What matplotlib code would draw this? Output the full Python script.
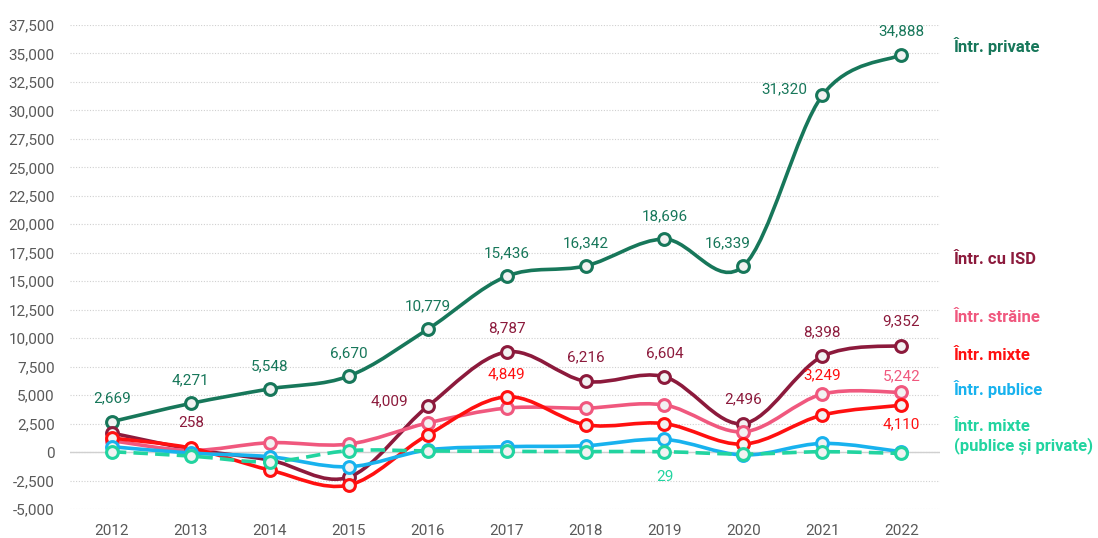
import matplotlib
matplotlib.use("Agg")
import matplotlib.pyplot as plt
from matplotlib.path import Path
from matplotlib.patches import PathPatch
from matplotlib.ticker import FuncFormatter, MultipleLocator

plt.rcParams['font.family'] = ['Roboto', 'DejaVu Sans']

years = ['2012', '2013', '2014', '2015', '2016', '2017', '2018', '2019', '2020', '2021', '2022']

private = [2669, 4271, 5548, 6670, 10779, 15436, 16342, 18696, 16339, 31320, 34888]
isd = [1670, 258, -700, -2200, 4009, 8787, 6216, 6604, 2496, 8398, 9352]
straine = [1000, 150, 820, 700, 2550, 3860, 3860, 4130, 1780, 5090, 5242]
mixte = [1230, 350, -1580, -2900, 1500, 4849, 2400, 2500, 700, 3249, 4110]
publice = [470, -90, -410, -1290, 180, 470, 560, 1110, -260, 760, 30]
mixte_ps = [30, -350, -850, 120, 100, 60, 40, 29, -180, 30, -120]

series_names = ['Într. private', 'Într. cu ISD', 'Într. străine', 'Într. mixte',
                'Într. publice', 'Într. mixte\n(publice și private)']
colors = ['#17775a', '#8c1a3c', '#f0587e', '#ff1010', '#18b2ee', '#22d4a0']

fig = plt.figure(figsize=(10.98, 5.38), dpi=100)
ax = fig.add_axes([70 / 1098, 1 - 509 / 538, 870 / 1098, 484 / 538])

xs = list(range(len(years)))


def smooth_path(x, y):
    n = len(x)
    verts = [(x[0], y[0])]
    codes = [Path.MOVETO]
    for i in range(n - 1):
        x0, y0 = (x[i - 1], y[i - 1]) if i > 0 else (x[i], y[i])
        x3, y3 = (x[i + 2], y[i + 2]) if i + 2 < n else (x[i + 1], y[i + 1])
        c1 = (x[i] + (x[i + 1] - x0) / 6, y[i] + (y[i + 1] - y0) / 6)
        c2 = (x[i + 1] - (x3 - x[i]) / 6, y[i + 1] - (y3 - y[i]) / 6)
        verts += [c1, c2, (x[i + 1], y[i + 1])]
        codes += [Path.CURVE4] * 3
    return Path(verts, codes)


all_series = [private, isd, straine, mixte, publice, mixte_ps]
for k, (vals, col) in enumerate(zip(all_series, colors)):
    ls = (0, (4, 2)) if k == 5 else '-'
    patch = PathPatch(smooth_path(xs, vals), facecolor='none', edgecolor=col,
                      lw=2.6, linestyle=ls, zorder=3 + k, capstyle='butt')
    ax.add_patch(patch)
    ax.plot(xs, vals, linestyle='none', marker='o', markersize=8.5,
            markerfacecolor='#f2f2f2', markeredgecolor=col, markeredgewidth=2.2,
            zorder=3 + k)

ax.set_xlim(-0.53, 10.49)
ax.set_ylim(-5000, 37500)
ax.yaxis.set_major_locator(MultipleLocator(2500))
ax.yaxis.set_major_formatter(FuncFormatter(lambda v, p: f"{int(v):,}"))
ax.set_xticks(xs)
ax.set_xticklabels(years)
ax.grid(axis='y', color='#d0d0d0', linestyle=(0, (1, 1.5)), lw=0.8, zorder=0)
ax.axhline(0, color='#d0d0d0', lw=1.0, zorder=1)
for s in ax.spines.values():
    s.set_visible(False)
ax.tick_params(axis='both', length=0, colors='#595959', labelsize=11)
ax.tick_params(axis='y', pad=11)
ax.tick_params(axis='x', pad=11)

fs = 11


def lab(vals, i, text, col, dx, dy, ha='center'):
    ax.annotate(text, (xs[i], vals[i]), xytext=(dx, dy), textcoords='offset pixels',
                ha=ha, va='center', color=col, fontsize=fs, zorder=20)


fmt = lambda v: f"{v:,}"
for i in range(len(years)):
    if i == 9:
        lab(private, i, fmt(private[i]), colors[0], -38, 6)
    elif i == 8:
        lab(private, i, fmt(private[i]), colors[0], -16, 23)
    else:
        lab(private, i, fmt(private[i]), colors[0], 0, 23)

for i in [1, 5, 6, 7, 8, 9, 10]:
    lab(isd, i, fmt(isd[i]), colors[1], 0, 24 if i != 1 else 26)
lab(isd, 4, fmt(isd[4]), colors[1], -38, 5)

lab(mixte, 5, fmt(mixte[5]), colors[3], 0, 23)
lab(mixte, 9, fmt(mixte[9]), colors[3], 0, 40)
lab(mixte, 10, fmt(mixte[10]), colors[3], 0, -19)
lab(straine, 10, fmt(straine[10]), colors[2], 0, 16)
lab(mixte_ps, 7, fmt(mixte_ps[7]), colors[5], 0, -25)

label_y = [46, 260, 317, 355, 389, 437]
for name, col, yy in zip(series_names, colors, label_y):
    fig.text(954 / 1098, 1 - yy / 538, name, color=col, fontsize=12,
             fontweight='bold', ha='left', va='center', linespacing=1.3)

fig.savefig('out.png', dpi=100)
